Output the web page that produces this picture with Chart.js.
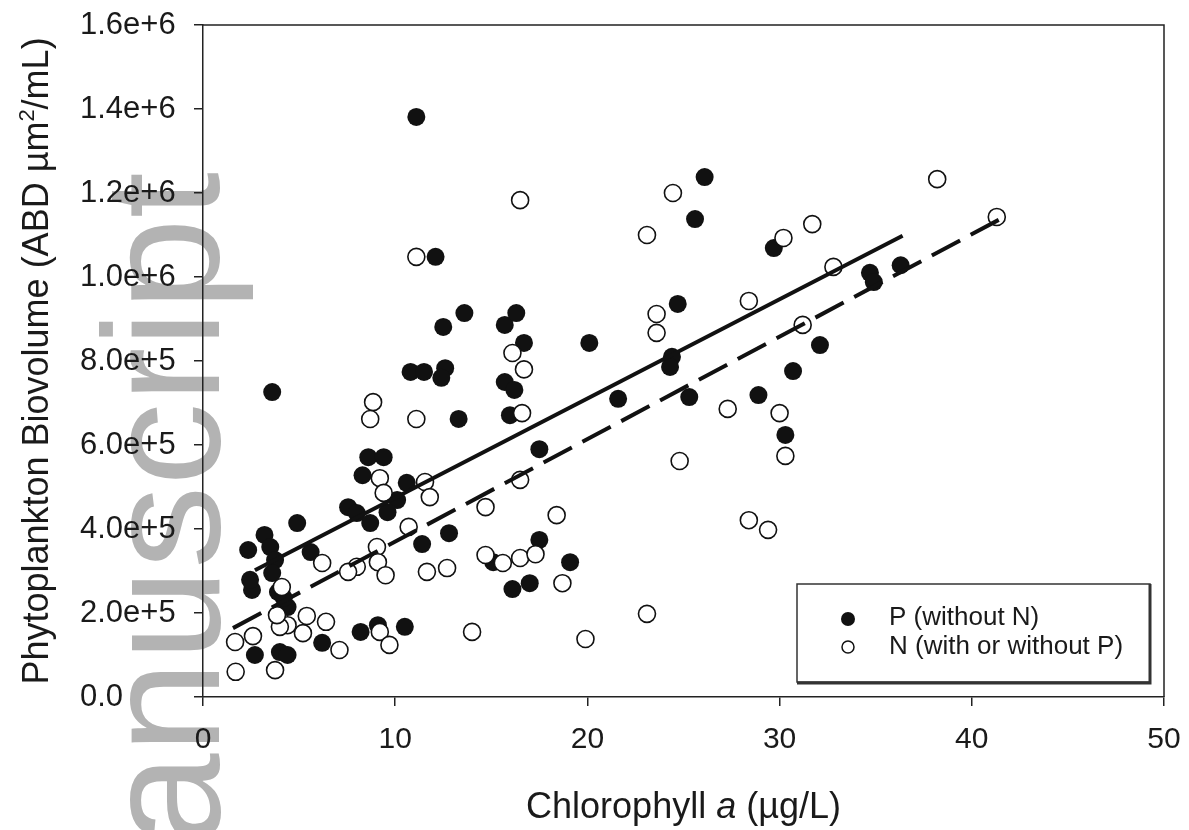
<!DOCTYPE html>
<html>
<head>
<meta charset="utf-8">
<script src="https://cdn.jsdelivr.net/npm/chart.js@4.4.1/dist/chart.umd.min.js"></script>
<style>
  html, body { margin: 0; background: #fff; }
  #wrap { width: 1189px; height: 830px; position: relative; background: #fff; }
</style>
</head>
<body>
<div id="wrap"><canvas id="chart"></canvas></div>
<script>
// P (without N) - filled circles
const pX = [11.1, 12.1, 13.6, 12.5, 15.7, 16.3, 16.7, 20.1, 26.1, 25.6, 29.7, 24.7, 24.4, 24.3,
  32.1, 30.7, 21.6, 25.3, 28.9, 30.3, 17.5, 15.7, 16.2, 15.97, 17.5, 19.1, 16.1, 17.0,
  34.7, 34.9, 36.3, 3.6, 10.8, 11.5, 12.6, 12.4, 13.3, 8.6, 9.4, 8.3, 10.6, 10.1, 9.6,
  7.55, 8.0, 8.7, 4.9, 12.8, 11.4, 15.1, 8.2, 9.1, 10.5, 6.2, 4.4, 4.2, 2.55, 2.45,
  2.35, 3.2, 3.5, 3.75, 3.6, 5.6, 2.7, 4.0, 4.4, 3.9];
const pY = [1381000, 1048000, 914000, 881000, 886000, 914000, 843000, 843000, 1238000, 1138000,
  1069000, 936000, 810000, 786000, 838000, 776000, 710000, 714000, 719000, 624000, 590000,
  750000, 731000, 671000, 374000, 321000, 257000, 271000, 1010000, 988000, 1028000, 726000,
  774000, 774000, 783000, 760000, 662000, 571000, 571000, 528000, 510000, 469000, 440000,
  452000, 438000, 414000, 414000, 390000, 364000, 321000, 155000, 171000, 167000, 129000,
  214000, 236000, 255000, 279000, 350000, 386000, 357000, 326000, 295000, 345000, 100000,
  107000, 100000, 250000];

// N (with or without P) - open circles
const nX = [11.1, 16.1, 16.7, 16.5, 24.45, 23.1, 31.7, 30.2, 32.8, 28.4, 23.6, 23.6, 16.6, 31.2,
  27.3, 30.0, 30.3, 24.8, 16.5, 18.4, 15.6, 16.5, 17.3, 18.7, 23.1, 19.9, 28.4, 29.4, 38.2,
  41.3, 8.85, 8.7, 11.1, 9.2, 9.4, 11.55, 11.8, 10.7, 14.7, 14.7, 11.65, 12.7, 9.05, 9.1,
  9.5, 8.0, 7.55, 6.2, 14.0, 9.2, 9.7, 7.1, 6.4, 5.2, 5.4, 4.4, 4.0, 3.85, 4.1, 1.7, 3.75,
  1.67, 2.6];
const nY = [1048000, 819000, 780000, 1183000, 1200000, 1100000, 1126000, 1093000, 1024000, 943000,
  912000, 867000, 676000, 886000, 686000, 676000, 574000, 562000, 517000, 433000, 319000,
  331000, 340000, 271000, 198000, 138000, 421000, 398000, 1233000, 1143000, 702000, 662000,
  662000, 521000, 486000, 512000, 476000, 405000, 452000, 338000, 298000, 307000, 357000,
  321000, 290000, 310000, 298000, 319000, 155000, 155000, 124000, 112000, 179000, 152000,
  193000, 171000, 167000, 195000, 262000, 60000, 64000, 131000, 145000];

// fitted lines, end points
const pFitX = [2.7, 36.4];
const pFitY = [302000, 1098000];
const nFitX = [1.56, 41.4];
const nFitY = [164000, 1136000];

const xTicks = [0, 10, 20, 30, 40, 50];
const yTickLabels = ["0.0", "2.0e+5", "4.0e+5", "6.0e+5", "8.0e+5", "1.0e+6", "1.2e+6", "1.4e+6", "1.6e+6"];

const legendLabels = ["P (without N)", "N (with or without P)"];

const FONT = '"Liberation Sans", Arial, Helvetica, sans-serif';
const INK = "#1a1a1a";

const pts = (xs, ys) => xs.map((x, i) => ({ x: x, y: ys[i] }));

// axis box is fixed by layout padding only
const noPad = (s) => { s.paddingTop = 0; s.paddingBottom = 0; s.paddingLeft = 0; s.paddingRight = 0; };

// watermark + axis titles + frame + legend
const extras = {
  id: "extras",
  beforeDraw(chart) {
    const ctx = chart.ctx;
    ctx.save();
    ctx.fillStyle = "#b3b3b3";
    ctx.font = "166px " + FONT;
    ctx.textBaseline = "alphabetic";
    ctx.textAlign = "left";
    ctx.translate(219, 984);
    ctx.rotate(-Math.PI / 2);
    ctx.fillText("manuscript", 0, 0);
    ctx.restore();
  },
  afterDraw(chart) {
    const ctx = chart.ctx;
    const a = chart.chartArea;
    ctx.save();

    // top and right frame
    ctx.strokeStyle = "#222";
    ctx.lineWidth = 1.5;
    ctx.beginPath();
    ctx.moveTo(a.left, a.top);
    ctx.lineTo(a.right, a.top);
    ctx.lineTo(a.right, a.bottom);
    ctx.stroke();

    ctx.fillStyle = INK;
    ctx.textBaseline = "alphabetic";
    ctx.textAlign = "left";

    // x title
    const norm = "36px " + FONT;
    const ital = "italic 36px " + FONT;
    const parts = [["Chlorophyll ", norm], ["a", ital], [" (\u00b5g/L)", norm]];
    let tw = 0;
    parts.forEach(p => { ctx.font = p[1]; tw += ctx.measureText(p[0]).width; });
    let cx = (a.left + a.right) / 2 - tw / 2;
    parts.forEach(p => { ctx.font = p[1]; ctx.fillText(p[0], cx, 818); cx += ctx.measureText(p[0]).width; });

    // y title
    ctx.save();
    ctx.translate(48, (a.top + a.bottom) / 2);
    ctx.rotate(-Math.PI / 2);
    const yParts = [["Phytoplankton Biovolume (ABD \u00b5m", norm, 0], ["2", "22px " + FONT, -14], ["/mL)", norm, 0]];
    let yw = 0;
    yParts.forEach(p => { ctx.font = p[1]; yw += ctx.measureText(p[0]).width; });
    let yx = -yw / 2;
    yParts.forEach(p => { ctx.font = p[1]; ctx.fillText(p[0], yx, p[2]); yx += ctx.measureText(p[0]).width; });
    ctx.restore();

    // legend box
    const L = 797, T = 584, R = 1150, B = 682;
    ctx.fillStyle = "#fff";
    ctx.fillRect(L, T, R - L, B - T);
    ctx.strokeStyle = "#333";
    ctx.lineWidth = 1.5;
    ctx.strokeRect(L, T, R - L, B - T);
    ctx.lineWidth = 3;
    ctx.beginPath();
    ctx.moveTo(R, T);
    ctx.lineTo(R, B + 1);
    ctx.lineTo(L, B + 1);
    ctx.stroke();

    ctx.fillStyle = "#111";
    ctx.beginPath();
    ctx.arc(848, 619, 7, 0, Math.PI * 2);
    ctx.fill();
    ctx.fillStyle = "#fff";
    ctx.strokeStyle = "#111";
    ctx.lineWidth = 1.5;
    ctx.beginPath();
    ctx.arc(848, 647, 6, 0, Math.PI * 2);
    ctx.fill();
    ctx.stroke();

    ctx.fillStyle = INK;
    ctx.font = "26px " + FONT;
    ctx.textBaseline = "middle";
    ctx.fillText(legendLabels[0], 889, 618);
    ctx.fillText(legendLabels[1], 889, 647);
    ctx.restore();
  }
};

new Chart(document.getElementById("chart"), {
  type: "scatter",
  data: {
    datasets: [
      {
        label: "fit P",
        data: pts(pFitX, pFitY),
        showLine: true,
        borderColor: "#111",
        borderWidth: 4,
        pointRadius: 0,
        fill: false
      },
      {
        label: "fit N",
        data: pts(nFitX, nFitY),
        showLine: true,
        borderColor: "#111",
        borderWidth: 4,
        borderDash: [32, 12],
        pointRadius: 0,
        fill: false
      },
      {
        label: legendLabels[1],
        data: pts(nX, nY),
        pointRadius: 8.5,
        pointBackgroundColor: "#fff",
        pointBorderColor: "#111",
        pointBorderWidth: 1.6
      },
      {
        label: legendLabels[0],
        data: pts(pX, pY),
        pointRadius: 9,
        pointBackgroundColor: "#111",
        pointBorderColor: "#111",
        pointBorderWidth: 0
      }
    ]
  },
  options: {
    responsive: true,
    maintainAspectRatio: false,
    animation: false,
    layout: { padding: { left: 80, top: 25, right: 25, bottom: 0 } },
    plugins: {
      legend: { display: false },
      tooltip: { enabled: false }
    },
    scales: {
      x: {
        type: "linear",
        min: 0,
        max: 50,
        afterBuildTicks: s => { s.ticks = xTicks.map(v => ({ value: v })); },
        afterFit: s => { s.height = 133; noPad(s); },
        ticks: { color: INK, font: { family: FONT, size: 30 }, padding: 16 },
        grid: { drawOnChartArea: false, drawTicks: true, tickLength: 9, color: "#222", lineWidth: 1.5 },
        border: { display: true, color: "#222", width: 1.5 }
      },
      y: {
        min: 0,
        max: 1600000,
        ticks: {
          stepSize: 200000,
          crossAlign: "far",
          color: INK,
          font: { family: FONT, size: 31 },
          padding: 16,
          callback: (v, i) => yTickLabels[i]
        },
        afterFit: s => { s.width = 123; noPad(s); },
        grid: { drawOnChartArea: false, drawTicks: true, tickLength: 9, color: "#222", lineWidth: 1.5 },
        border: { display: true, color: "#222", width: 1.5 }
      }
    }
  },
  plugins: [extras]
});
</script>
</body>
</html>
